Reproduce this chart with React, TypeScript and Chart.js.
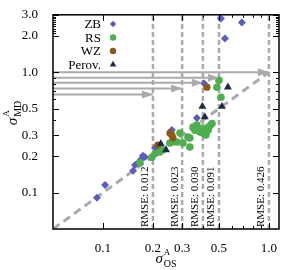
import React, { useEffect, useRef } from 'react';
import { Chart, registerables } from 'chart.js';
Chart.register(...registerables);

const X_MIN = 0.05, X_MAX = 1.15, Y_MIN = 0.05, Y_MAX = 3.0;
const X_TICKS = [0.1, 0.2, 0.3, 0.5, 1.0];
const Y_TICKS = [0.1, 0.2, 0.3, 0.5, 1.0, 2.0, 3.0];
const X_MINOR = [0.4, 0.6, 0.7, 0.8, 0.9];
const Y_MINOR = [0.4, 0.6, 0.7, 0.8, 0.9, 2.1, 2.2, 2.3, 2.4, 2.5, 2.6, 2.7, 2.8, 2.9];

const ZB_X = [0.092, 0.103, 0.152, 0.156, 0.163, 0.174, 0.179, 0.170, 0.206, 0.260, 0.368, 0.406, 0.514, 0.687, 0.543];
const ZB_Y = [0.091, 0.116, 0.152, 0.170, 0.177, 0.203, 0.198, 0.190, 0.235, 0.332, 0.417, 0.811, 2.79, 2.59, 1.91];

const RS_X = [0.167, 0.197, 0.206, 0.220, 0.230, 0.253, 0.264, 0.279, 0.291, 0.303, 0.325, 0.334, 0.334, 0.349, 0.368, 0.358, 0.384, 0.395, 0.411, 0.423, 0.441, 0.454, 0.400, 0.417, 0.430, 0.500, 0.486, 0.514];
const RS_Y = [0.177, 0.197, 0.212, 0.218, 0.227, 0.259, 0.264, 0.264, 0.313, 0.259, 0.290, 0.240, 0.285, 0.351, 0.365, 0.330, 0.320, 0.340, 0.330, 0.345, 0.360, 0.375, 0.313, 0.302, 0.330, 0.859, 0.752, 0.621];

const WZ_X = [0.214, 0.260, 0.264, 0.253, 0.423];
const WZ_Y = [0.249, 0.302, 0.285, 0.313, 0.752];

const PV_X = [0.223, 0.240, 0.397, 0.411, 0.521, 0.566];
const PV_Y = [0.255, 0.227, 0.520, 0.425, 0.520, 0.752];

const RMSE_AT = [0.2, 0.3, 0.4, 0.5, 1.0];
const RMSE_LABELS = ['RMSE: 0.012', 'RMSE: 0.023', 'RMSE: 0.030', 'RMSE: 0.091', 'RMSE: 0.426'];

const ARROW_Y = [1.0, 0.90, 0.817, 0.733, 0.654];
const ARROW_X = [1.0, 0.5, 0.4, 0.3, 0.2];

const SERIES_NAMES = ['ZB', 'RS', 'WZ', 'Perov.'];

const SERIF = "'Liberation Serif', 'Times New Roman', serif";
const GRAY = '#aaaaaa';

const zip = (xs: number[], ys: number[]) => xs.map((x, i) => ({ x, y: ys[i] }));

const decoPlugin = {
  id: 'deco',
  afterDatasetsDraw(chart: any) {
    const ctx = chart.ctx;
    ctx.save();
    chart.data.datasets.forEach((ds: any, i: number) => {
      if (!ds.isArrow) return;
      const meta = chart.getDatasetMeta(i);
      const p = meta.data[meta.data.length - 1];
      ctx.fillStyle = GRAY;
      ctx.beginPath();
      ctx.moveTo(p.x, p.y);
      ctx.lineTo(p.x - 11, p.y - 4);
      ctx.lineTo(p.x - 11, p.y + 4);
      ctx.closePath();
      ctx.fill();
    });
    ctx.restore();
  },
  afterDraw(chart: any) {
    const ctx = chart.ctx;
    const { left, right, top, bottom } = chart.chartArea;
    const xs = chart.scales.x, ys = chart.scales.y;
    ctx.save();
    // RMSE labels
    ctx.fillStyle = '#000';
    ctx.font = `11px ${SERIF}`;
    RMSE_AT.forEach((v, i) => {
      const px = xs.getPixelForValue(v);
      ctx.save();
      ctx.translate(px - 2, bottom - 2);
      ctx.rotate(-Math.PI / 2);
      ctx.textAlign = 'left';
      ctx.textBaseline = 'bottom';
      ctx.fillText(RMSE_LABELS[i], 0, 0);
      ctx.restore();
    });
    // frame
    ctx.strokeStyle = '#000';
    ctx.lineWidth = 1.5;
    ctx.strokeRect(left, top, right - left, bottom - top);
    ctx.lineWidth = 1;
    const tick = (a: number, b: number, c: number, d: number) => {
      ctx.beginPath(); ctx.moveTo(a, b); ctx.lineTo(c, d); ctx.stroke();
    };
    const xt = (list: number[], len: number) => list.forEach((v) => {
      const px = Math.round(xs.getPixelForValue(v)) + 0.5;
      tick(px, bottom, px, bottom - len);
      tick(px, top, px, top + len);
    });
    const yt = (list: number[], len: number) => list.forEach((v) => {
      const py = Math.round(ys.getPixelForValue(v)) + 0.5;
      tick(left, py, left + len, py);
      tick(right, py, right - len, py);
    });
    xt(X_TICKS, 6); xt(X_MINOR, 3);
    yt(Y_TICKS, 6); yt(Y_MINOR, 3);
    // legend
    const rows = [24, 37.5, 51, 64.5];
    ctx.font = `13px ${SERIF}`;
    ctx.textAlign = 'right';
    ctx.textBaseline = 'middle';
    SERIES_NAMES.forEach((name, i) => {
      const ds = chart.data.datasets[i];
      const y = rows[i];
      ctx.fillStyle = '#000';
      ctx.fillText(name, left + 48, y + 1);
      const mx = left + 60;
      ctx.fillStyle = ds.backgroundColor;
      ctx.beginPath();
      const r = 3.2;
      if (ds.pointStyle === 'rectRot') {
        ctx.moveTo(mx - r, y); ctx.lineTo(mx, y - r); ctx.lineTo(mx + r, y); ctx.lineTo(mx, y + r);
      } else if (ds.pointStyle === 'triangle') {
        const rr = 3.8;
        ctx.moveTo(mx, y - rr); ctx.lineTo(mx + rr * 0.866, y + rr * 0.5); ctx.lineTo(mx - rr * 0.866, y + rr * 0.5);
      } else {
        ctx.arc(mx, y, r, 0, Math.PI * 2);
      }
      ctx.closePath();
      ctx.fill();
    });
    // axis titles
    const drawTitle = (cx: number, cy: number, rot: number, sup: string, sub: string) => {
      ctx.save();
      ctx.translate(cx, cy);
      ctx.rotate(rot);
      ctx.fillStyle = '#000';
      ctx.textAlign = 'left';
      ctx.textBaseline = 'alphabetic';
      ctx.font = `italic 15px ${SERIF}`;
      const ws = ctx.measureText('σ').width;
      ctx.font = `9px ${SERIF}`;
      const wa = ctx.measureText(sup).width;
      ctx.font = `10px ${SERIF}`;
      const wb = ctx.measureText(sub).width;
      const total = ws + 1 + Math.max(wa, wb);
      const x0 = -total / 2;
      ctx.font = `italic 15px ${SERIF}`;
      ctx.fillText('σ', x0, 0);
      ctx.font = `9px ${SERIF}`;
      ctx.fillText(sup, x0 + ws + 1, -8);
      ctx.font = `10px ${SERIF}`;
      ctx.fillText(sub, x0 + ws + 1, 4);
      ctx.restore();
    };
    drawTitle((left + right) / 2, 263, 0, 'A', 'OS');
    drawTitle(17, 113, -Math.PI / 2, 'A', 'MD');
    ctx.restore();
  },
};

export default function App() {
  const ref = useRef<HTMLCanvasElement>(null);
  useEffect(() => {
    if (!ref.current) return;
    const lineBase = {
      showLine: true,
      pointRadius: 0,
      pointHoverRadius: 0,
      borderColor: GRAY,
      backgroundColor: GRAY,
      fill: false,
    };
    const datasets: any[] = [
      { label: 'ZB', data: zip(ZB_X, ZB_Y), pointStyle: 'rectRot', pointRadius: 4, backgroundColor: '#5b5bc0', borderColor: '#5b5bc0', borderWidth: 0, order: 3 },
      { label: 'RS', data: zip(RS_X, RS_Y), pointStyle: 'circle', pointRadius: 3.8, backgroundColor: '#4fae4f', borderColor: '#4fae4f', borderWidth: 0, order: 2 },
      { label: 'WZ', data: zip(WZ_X, WZ_Y), pointStyle: 'circle', pointRadius: 3.6, backgroundColor: '#8b5a1a', borderColor: '#8b5a1a', borderWidth: 0, order: 1 },
      { label: 'Perov.', data: zip(PV_X, PV_Y), pointStyle: 'triangle', pointRadius: 4.6, backgroundColor: '#1c2b45', borderColor: '#1c2b45', borderWidth: 0, order: 0 },
    ];
    RMSE_AT.forEach((v) => {
      datasets.push({ ...lineBase, data: [{ x: v, y: Y_MIN }, { x: v, y: Y_MAX }], borderWidth: 2.5, borderDash: [5, 3], order: 10 });
    });
    datasets.push({ ...lineBase, data: [{ x: X_MIN, y: X_MIN }, { x: 1.0, y: 1.0 }], borderWidth: 3, borderDash: [8, 5], order: 10 });
    ARROW_Y.forEach((y, i) => {
      datasets.push({ ...lineBase, isArrow: true, data: [{ x: X_MIN, y }, { x: ARROW_X[i], y }], borderWidth: 2, order: 9 });
    });

    const chart = new Chart(ref.current, {
      type: 'scatter',
      data: { datasets },
      options: {
        responsive: false,
        animation: false,
        devicePixelRatio: 1,
        layout: { padding: { top: 14, right: 21, left: 0, bottom: 0 } },
        plugins: { legend: { display: false }, tooltip: { enabled: false } },
        scales: {
          x: {
            type: 'logarithmic',
            min: X_MIN,
            max: X_MAX,
            grid: { display: false },
            border: { display: false },
            afterBuildTicks: (s: any) => { s.ticks = X_TICKS.map((v) => ({ value: v })); },
            afterFit: (s: any) => { s.height = 41; },
            ticks: {
              autoSkip: false,
              maxRotation: 0,
              padding: 4,
              color: '#000',
              font: { family: SERIF, size: 13 },
              callback: (v: any) => Number(v).toFixed(1),
            },
          },
          y: {
            type: 'logarithmic',
            min: Y_MIN,
            max: Y_MAX,
            grid: { display: false },
            border: { display: false },
            afterBuildTicks: (s: any) => { s.ticks = Y_TICKS.map((v) => ({ value: v })); },
            afterFit: (s: any) => { s.width = 53; },
            ticks: {
              autoSkip: false,
              padding: 7,
              color: '#000',
              font: { family: SERIF, size: 13 },
              callback: (v: any) => Number(v).toFixed(1),
            },
          },
        },
      },
      plugins: [decoPlugin],
    } as any);
    return () => chart.destroy();
  }, []);
  return (
    <canvas ref={ref} width={300} height={270} style={{ position: 'absolute', left: 0, top: 0, width: 300, height: 270 }} />
  );
}
